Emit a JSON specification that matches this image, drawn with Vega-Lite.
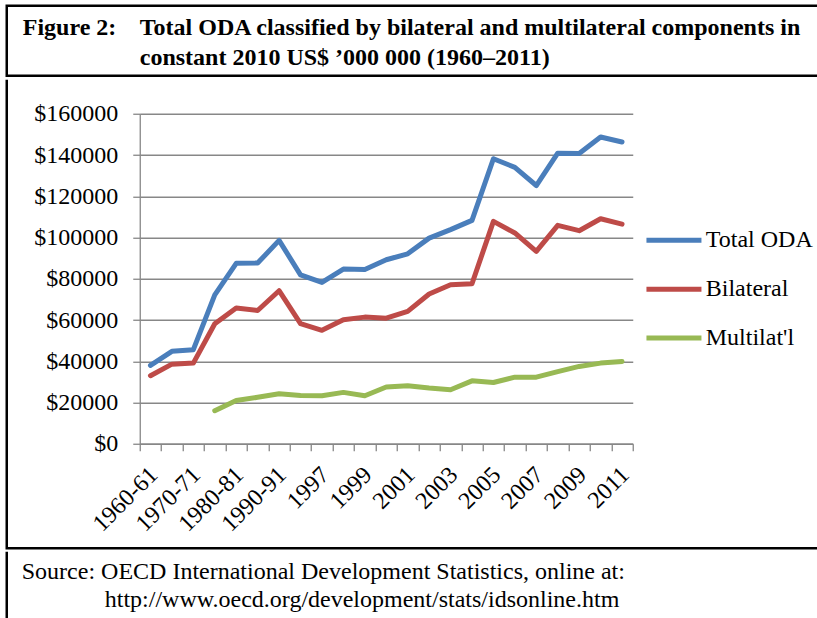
{
  "$schema": "https://vega.github.io/schema/vega-lite/v6.json",
  "background": "white",
  "padding": {"left": -3.25, "top": 3.75, "right": 0, "bottom": 0},
  "spacing": 0,
  "config": {"view": {"stroke": null}, "font": "Liberation Serif"},
  "vconcat": [
    {
      "width": 812,
      "height": 70,
      "view": {"stroke": "black", "strokeWidth": 2.5, "strokeDash": [812, 70, 900]},
      "data": {"values": [
        {"col": "label", "line": "1", "text": "Figure 2:"},
        {"col": "body", "line": "1", "text": "Total ODA classified by bilateral and multilateral components in"},
        {"col": "body", "line": "2", "text": "constant 2010 US$ ’000 000 (1960–2011)"}
      ]},
      "mark": {"type": "text", "align": "left", "baseline": "alphabetic", "font": "Liberation Serif", "fontSize": 24, "fontWeight": "bold", "color": "black"},
      "encoding": {
        "x": {"field": "col", "type": "nominal", "scale": {"type": "point", "domain": ["label", "body"], "range": [16, 133], "padding": 0}, "axis": null},
        "y": {"field": "line", "type": "ordinal", "scale": {"type": "point", "domain": ["1", "2"], "range": [29, 59], "padding": 0}, "axis": null},
        "text": {"field": "text"}
      }
    },
    {
      "width": 812,
      "height": 468.5,
      "view": {"stroke": "black", "strokeWidth": 2.5, "strokeDash": [0, 1280.5, 1300]},
      "data": {"values": [
        {"period": "1960-61", "series": "Total ODA", "value": 38000},
        {"period": "1965-66", "series": "Total ODA", "value": 44800},
        {"period": "1970-71", "series": "Total ODA", "value": 45600},
        {"period": "1975-76", "series": "Total ODA", "value": 72200},
        {"period": "1980-81", "series": "Total ODA", "value": 87500},
        {"period": "1985-86", "series": "Total ODA", "value": 87600},
        {"period": "1990-91", "series": "Total ODA", "value": 98600},
        {"period": "1995-96", "series": "Total ODA", "value": 81900},
        {"period": "1997", "series": "Total ODA", "value": 78200},
        {"period": "1998", "series": "Total ODA", "value": 84700},
        {"period": "1999", "series": "Total ODA", "value": 84500},
        {"period": "2000", "series": "Total ODA", "value": 89200},
        {"period": "2001", "series": "Total ODA", "value": 92100},
        {"period": "2002", "series": "Total ODA", "value": 99700},
        {"period": "2003", "series": "Total ODA", "value": 103800},
        {"period": "2004", "series": "Total ODA", "value": 108300},
        {"period": "2005", "series": "Total ODA", "value": 138200},
        {"period": "2006", "series": "Total ODA", "value": 134000},
        {"period": "2007", "series": "Total ODA", "value": 125200},
        {"period": "2008", "series": "Total ODA", "value": 140900},
        {"period": "2009", "series": "Total ODA", "value": 140700},
        {"period": "2010", "series": "Total ODA", "value": 148700},
        {"period": "2011", "series": "Total ODA", "value": 146300},
        {"period": "1960-61", "series": "Bilateral", "value": 33000},
        {"period": "1965-66", "series": "Bilateral", "value": 38600},
        {"period": "1970-71", "series": "Bilateral", "value": 39100},
        {"period": "1975-76", "series": "Bilateral", "value": 58200},
        {"period": "1980-81", "series": "Bilateral", "value": 65800},
        {"period": "1985-86", "series": "Bilateral", "value": 64600},
        {"period": "1990-91", "series": "Bilateral", "value": 74200},
        {"period": "1995-96", "series": "Bilateral", "value": 58200},
        {"period": "1997", "series": "Bilateral", "value": 55000},
        {"period": "1998", "series": "Bilateral", "value": 60100},
        {"period": "1999", "series": "Bilateral", "value": 61400},
        {"period": "2000", "series": "Bilateral", "value": 60900},
        {"period": "2001", "series": "Bilateral", "value": 64200},
        {"period": "2002", "series": "Bilateral", "value": 72600},
        {"period": "2003", "series": "Bilateral", "value": 77100},
        {"period": "2004", "series": "Bilateral", "value": 77600},
        {"period": "2005", "series": "Bilateral", "value": 107800},
        {"period": "2006", "series": "Bilateral", "value": 102200},
        {"period": "2007", "series": "Bilateral", "value": 93300},
        {"period": "2008", "series": "Bilateral", "value": 105900},
        {"period": "2009", "series": "Bilateral", "value": 103300},
        {"period": "2010", "series": "Bilateral", "value": 109100},
        {"period": "2011", "series": "Bilateral", "value": 106500},
        {"period": "1975-76", "series": "Multilat'l", "value": 16000},
        {"period": "1980-81", "series": "Multilat'l", "value": 21000},
        {"period": "1985-86", "series": "Multilat'l", "value": 22500},
        {"period": "1990-91", "series": "Multilat'l", "value": 24200},
        {"period": "1995-96", "series": "Multilat'l", "value": 23400},
        {"period": "1997", "series": "Multilat'l", "value": 23300},
        {"period": "1998", "series": "Multilat'l", "value": 24900},
        {"period": "1999", "series": "Multilat'l", "value": 23300},
        {"period": "2000", "series": "Multilat'l", "value": 27500},
        {"period": "2001", "series": "Multilat'l", "value": 28100},
        {"period": "2002", "series": "Multilat'l", "value": 27000},
        {"period": "2003", "series": "Multilat'l", "value": 26200},
        {"period": "2004", "series": "Multilat'l", "value": 30500},
        {"period": "2005", "series": "Multilat'l", "value": 29700},
        {"period": "2006", "series": "Multilat'l", "value": 32300},
        {"period": "2007", "series": "Multilat'l", "value": 32300},
        {"period": "2008", "series": "Multilat'l", "value": 35000},
        {"period": "2009", "series": "Multilat'l", "value": 37500},
        {"period": "2010", "series": "Multilat'l", "value": 39100},
        {"period": "2011", "series": "Multilat'l", "value": 39900}
      ]},
      "mark": {"type": "line", "strokeWidth": 5, "strokeCap": "round", "strokeJoin": "round"},
      "encoding": {
        "x": {
          "field": "period", "type": "ordinal",
          "sort": ["1960-61","1965-66","1970-71","1975-76","1980-81","1985-86","1990-91","1995-96","1997","1998","1999","2000","2001","2002","2003","2004","2005","2006","2007","2008","2009","2010","2011"],
          "scale": {"type": "band", "range": [133, 626], "paddingInner": 0, "paddingOuter": 0},
          "axis": {
            "title": null, "grid": false, "tickBand": "extent", "offset": -104.5,
            "domainColor": "#878787", "domainWidth": 1.3, "tickColor": "#878787", "tickWidth": 1.3, "tickSize": 7,
            "labelAngle": -45, "labelAlign": "right", "labelBaseline": "middle", "labelPadding": 20, "labelOffset": 3,
            "labelFont": "Liberation Serif", "labelFontSize": 24, "labelColor": "black", "labelOverlap": false, "labelFlush": false,
            "labelExpr": "indexof(['1960-61','1970-71','1980-81','1990-91','1997','1999','2001','2003','2005','2007','2009','2011'], datum.value) >= 0 ? datum.label : ''"
          }
        },
        "y": {
          "field": "value", "type": "quantitative",
          "scale": {"domain": [0, 160000], "range": [364, 34], "nice": false},
          "axis": {
            "title": null, "values": [0, 20000, 40000, 60000, 80000, 100000, 120000, 140000, 160000], "offset": -133,
            "grid": true, "gridColor": "#878787", "gridWidth": 1.3,
            "domainColor": "#878787", "domainWidth": 1.3, "tickColor": "#878787", "tickWidth": 1.3, "tickSize": 7,
            "labelPadding": 15, "labelFont": "Liberation Serif", "labelFontSize": 24, "labelColor": "black",
            "labelExpr": "'$' + datum.value"
          }
        },
        "color": {
          "field": "series", "type": "nominal",
          "scale": {"domain": ["Total ODA", "Bilateral", "Multilat'l"], "range": ["#4A7EBB", "#BE4B48", "#98B954"]},
          "legend": {
            "title": null, "orient": "none", "legendX": 637.2, "legendY": 204.5, "padding": 0,
            "symbolType": "stroke", "symbolSize": 3025, "symbolStrokeWidth": 5, "rowPadding": 6.9,
            "labelFont": "Liberation Serif", "labelFontSize": 24, "labelColor": "black", "labelOffset": 1.8, "labelLimit": 300
          }
        }
      }
    },
    {
      "width": 812,
      "height": 68,
      "view": {"stroke": "black", "strokeWidth": 2.5, "strokeDash": [0, 1692, 100]},
      "data": {"values": [
        {"col": "a", "line": "1", "text": "Source: OECD International Development Statistics, online at:"},
        {"col": "b", "line": "2", "text": "http://www.oecd.org/development/stats/idsonline.htm"}
      ]},
      "mark": {"type": "text", "align": "left", "baseline": "alphabetic", "font": "Liberation Serif", "fontSize": 24, "color": "black"},
      "encoding": {
        "x": {"field": "col", "type": "nominal", "scale": {"type": "point", "domain": ["a", "b"], "range": [15, 98], "padding": 0}, "axis": null},
        "y": {"field": "line", "type": "ordinal", "scale": {"type": "point", "domain": ["1", "2"], "range": [27.5, 55.5], "padding": 0}, "axis": null},
        "text": {"field": "text"}
      }
    }
  ]
}
